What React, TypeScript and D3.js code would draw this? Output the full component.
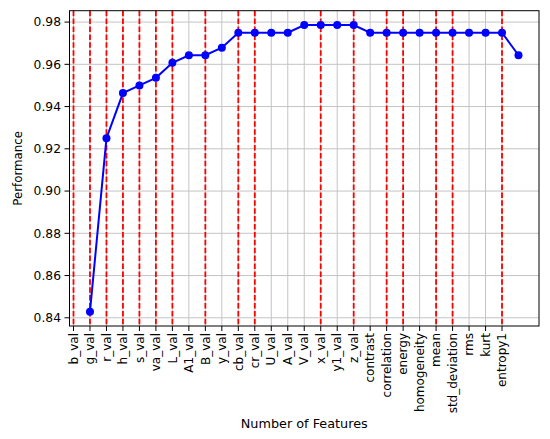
import * as d3 from "d3";

// feature names shown on the x axis (tick positions 0..26)
const features = [
  "b_val", "g_val", "r_val", "h_val", "s_val", "va_val", "L_val", "A1_val",
  "B_val", "y_val", "cb_val", "cr_val", "U_val", "A_val", "V_val", "x_val",
  "y1_val", "z_val", "contrast", "correlation", "energy", "homogeneity",
  "mean", "std_deviation", "rms", "kurt", "entropy1",
];

// performance for 1..27 features (plotted at x = 1..27)
const performance = [
  0.8429, 0.925, 0.9464, 0.95, 0.9536, 0.9607, 0.9643, 0.9643, 0.9679,
  0.975, 0.975, 0.975, 0.975, 0.9786, 0.9786, 0.9786, 0.9786, 0.975,
  0.975, 0.975, 0.975, 0.975, 0.975, 0.975, 0.975, 0.975, 0.9643,
];

// features marked with red dashed lines
const selected = [
  "b_val", "g_val", "r_val", "h_val", "s_val", "va_val", "L_val", "B_val",
  "cb_val", "cr_val", "x_val", "z_val", "correlation", "energy", "mean",
  "std_deviation", "entropy1",
];

const yTicks = [0.84, 0.86, 0.88, 0.9, 0.92, 0.94, 0.96, 0.98];

const W = 550;
const H = 439;
const left = 69.5;
const right = 539;
const top = 10.7;
const bottom = 326;
const font = "DejaVu Sans, sans-serif";

export default function App() {
  const x = d3.scaleLinear().domain([0, features.length]).range([73.5, 518.5]);
  const [lo, hi] = d3.extent(performance) as [number, number];
  const pad = (hi - lo) * 0.05;
  const y = d3.scaleLinear().domain([lo - pad, hi + pad]).range([bottom, top]);

  const pts = performance.map((v, i) => [i + 1, v] as [number, number]);
  const line = d3.line<[number, number]>().x(d => x(d[0])).y(d => y(d[1]));

  return (
    <svg width={W} height={H} style={{ position: "absolute", left: 0, top: 0, background: "#fff" }}>
      {/* grid */}
      <g stroke="#c4c4c4" strokeWidth={1}>
        {features.map((f, i) => (
          <line key={f} x1={x(i)} x2={x(i)} y1={top} y2={bottom} />
        ))}
        {yTicks.map(t => (
          <line key={t} x1={left} x2={right} y1={y(t)} y2={y(t)} />
        ))}
      </g>
      {/* selected feature lines */}
      <g stroke="#ff0000" strokeWidth={1.8} strokeDasharray="5.5,2.4">
        {selected.map(f => {
          const i = features.indexOf(f);
          return <line key={f} x1={x(i)} x2={x(i)} y1={top} y2={bottom} />;
        })}
      </g>
      <path d={line(pts) ?? ""} fill="none" stroke="#0000ff" strokeWidth={2} />
      <g fill="#0000ff">
        {pts.map(d => (
          <circle key={d[0]} cx={x(d[0])} cy={y(d[1])} r={4} />
        ))}
      </g>
      {/* frame */}
      <rect x={left} y={top} width={right - left} height={bottom - top} fill="none" stroke="#000" strokeWidth={1} />
      {/* y axis */}
      <g fontFamily={font} fontSize={12.3} fill="#000">
        {yTicks.map(t => (
          <g key={t}>
            <line x1={left - 5} x2={left} y1={y(t)} y2={y(t)} stroke="#000" />
            <text x={left - 8.5} y={y(t)} dy="0.35em" textAnchor="end">{t.toFixed(2)}</text>
          </g>
        ))}
      </g>
      {/* x axis */}
      <g fontFamily={font} fontSize={12} fill="#000">
        {features.map((f, i) => (
          <g key={f}>
            <line x1={x(i)} x2={x(i)} y1={bottom} y2={bottom + 5} stroke="#000" />
            <text
              transform={`translate(${x(i)},${bottom + 7}) rotate(-90)`}
              dy="0.35em"
              textAnchor="end"
            >
              {f}
            </text>
          </g>
        ))}
      </g>
      <text x={(left + right) / 2} y={428} textAnchor="middle" fontFamily={font} fontSize={12.8}>
        Number of Features
      </text>
      <text
        transform={`translate(22,${(top + bottom) / 2}) rotate(-90)`}
        textAnchor="middle"
        fontFamily={font}
        fontSize={11.8}
      >
        Performance
      </text>
    </svg>
  );
}
